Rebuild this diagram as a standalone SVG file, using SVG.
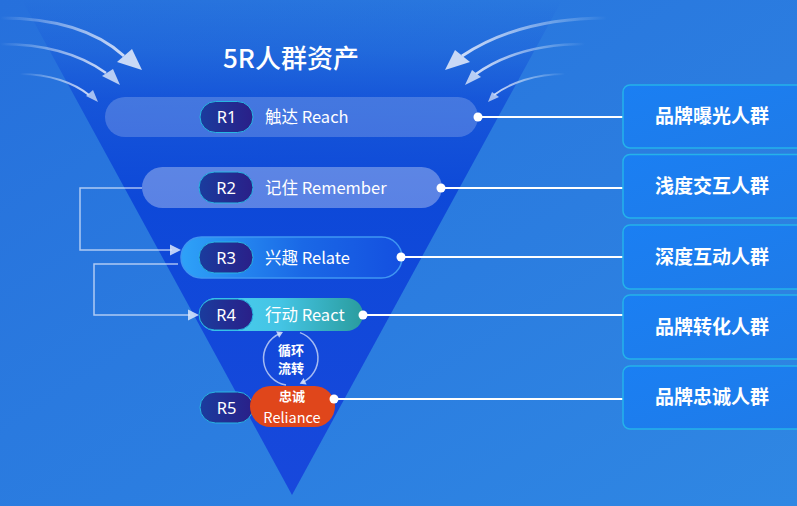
<svg xmlns="http://www.w3.org/2000/svg" width="797" height="506" viewBox="0 0 797 506">
<defs>
<linearGradient id="bg" x1="0" y1="0" x2="1" y2="1">
<stop offset="0" stop-color="#2670dc"/>
<stop offset="1" stop-color="#2f87e3"/>
</linearGradient>
<linearGradient id="funnel" x1="0" y1="0" x2="0" y2="495" gradientUnits="userSpaceOnUse">
<stop offset="0" stop-color="#0c44d6" stop-opacity="0"/>
<stop offset="0.1" stop-color="#0c44d6" stop-opacity="0.25"/>
<stop offset="0.2" stop-color="#0c44d6" stop-opacity="0.65"/>
<stop offset="0.4" stop-color="#0c46d8" stop-opacity="0.95"/>
<stop offset="1" stop-color="#1848dc"/>
</linearGradient>
<linearGradient id="fadeL" x1="0" y1="0" x2="1" y2="0">
<stop offset="0" stop-color="#ffffff" stop-opacity="0"/>
<stop offset="1" stop-color="#dfe8fb" stop-opacity="0.9"/>
</linearGradient>
<linearGradient id="fadeR" x1="1" y1="0" x2="0" y2="0">
<stop offset="0" stop-color="#ffffff" stop-opacity="0"/>
<stop offset="1" stop-color="#dfe8fb" stop-opacity="0.9"/>
</linearGradient>
<linearGradient id="badge" x1="0" y1="0" x2="1" y2="0">
<stop offset="0" stop-color="#1a3c9e"/>
<stop offset="1" stop-color="#2a1f88"/>
</linearGradient>
<linearGradient id="r3g" x1="0" y1="0" x2="1" y2="0">
<stop offset="0" stop-color="#2ea2f8"/>
<stop offset="0.55" stop-color="#1a68e6"/>
<stop offset="1" stop-color="#1450e0"/>
</linearGradient>
<linearGradient id="r4g" x1="0" y1="0" x2="1" y2="0">
<stop offset="0" stop-color="#4ad0f2"/>
<stop offset="0.5" stop-color="#44c4e4"/>
<stop offset="1" stop-color="#2a9c9e"/>
</linearGradient>
<linearGradient id="boxg" x1="0" y1="0" x2="1" y2="1">
<stop offset="0" stop-color="#1a7ff3"/>
<stop offset="1" stop-color="#1f7be8"/>
</linearGradient>
<style>
.cn{font-family:"Noto Sans CJK SC","Noto Sans",sans-serif;fill:#ffffff}
.lbl{font-size:16.5px}
.badge{fill:url(#badge);stroke:#27b6e2;stroke-width:1}
.btxt{font-family:"Noto Sans","Liberation Sans",sans-serif;font-size:16.5px;fill:#ffffff;text-anchor:middle}
.box{fill:url(#boxg);stroke:#25b2ea;stroke-width:1.5}
.boxtxt{font-size:19px;font-weight:bold;text-anchor:middle}
.link{stroke:#ffffff;stroke-width:2;fill:none}
.dot{fill:#ffffff}
.loop{stroke:#dbe6fb;stroke-opacity:0.75;stroke-width:1.5;fill:none}
.loophead{fill:#dbe6fb;fill-opacity:0.85}
.cyc{stroke:#e4ecfc;stroke-opacity:0.7;stroke-width:1.5;fill:none}
.head{fill:#c9d9f6}
</style>
</defs>
<rect x="0" y="0" width="797" height="506" fill="url(#bg)"/>
<polygon points="22,0 562,0 292,495" fill="url(#funnel)"/>

<g id="incoming-arrows">
<path d="M0 18 C60 18 100 34 124 56" stroke="url(#fadeL)" stroke-width="3" fill="none"/>
<polygon class="head" points="142,70 117,62 132,49"/>
<path d="M0 44 C50 44 84 57 106 73" stroke="url(#fadeL)" stroke-width="2.5" fill="none"/>
<polygon class="head" points="120,85 102,76 113,69" opacity="0.9"/>
<path d="M20 74 C50 74 74 83 89 95" stroke="url(#fadeL)" stroke-width="2" fill="none"/>
<polygon class="head" points="98,102 86,96 93,90" opacity="0.8"/>
<path d="M607 18 C540 18 495 34 462 56" stroke="url(#fadeR)" stroke-width="3" fill="none"/>
<polygon class="head" points="445,70 455,50 470,62"/>
<path d="M585 44 C535 44 500 57 476 74" stroke="url(#fadeR)" stroke-width="2.5" fill="none"/>
<polygon class="head" points="465,85 472,70 481,77" opacity="0.9"/>
<path d="M565 74 C535 74 510 83 494 95" stroke="url(#fadeR)" stroke-width="2" fill="none"/>
<polygon class="head" points="488,102 492,92 499,97" opacity="0.8"/>
</g>

<text class="cn" x="291" y="68" font-size="26" font-weight="500" text-anchor="middle">5R人群资产</text>

<g id="connectors">
<line class="link" x1="478" y1="117" x2="623" y2="117"/>
<line class="link" x1="441" y1="188" x2="623" y2="188"/>
<line class="link" x1="401" y1="257" x2="623" y2="257"/>
<line class="link" x1="363" y1="315" x2="623" y2="315"/>
<line class="link" x1="334" y1="399" x2="623" y2="399"/>
<path class="loop" d="M142 188 H80 V250 H172"/>
<polygon class="loophead" points="181,250 170,244.5 170,255.5"/>
<path class="loop" d="M178 264 H94 V315 H190"/>
<polygon class="loophead" points="199,315 188,309.5 188,320.5"/>
<path class="cyc" d="M286 385 A27 27 0 0 1 280 333.5"/>
<polygon class="loophead" points="283,332 279.1,337.7 276.1,331.3"/>
<path class="cyc" d="M300 332.6 A27 27 0 0 1 302.4 382.5"/>
<polygon class="loophead" points="299.7,383.8 306.6,384.5 303.6,378.1"/>
</g>

<g id="R1">
<rect x="105" y="97" width="373" height="40" rx="20" fill="#ffffff" fill-opacity="0.2"/>
<rect class="badge" x="200" y="101.5" width="53" height="31" rx="15.5"/>
<text class="btxt" x="226.5" y="123">R1</text>
<text class="cn lbl" x="265" y="123">触达 Reach</text>
<circle class="dot" cx="478" cy="117" r="4.5"/>
</g>

<g id="R2">
<rect x="142" y="167" width="300" height="41" rx="20.5" fill="#ffffff" fill-opacity="0.32"/>
<rect class="badge" x="199" y="172" width="54" height="31" rx="15.5"/>
<text class="btxt" x="226" y="193.5">R2</text>
<text class="cn lbl" x="265" y="193.5">记住 Remember</text>
<circle class="dot" cx="441" cy="188" r="4.5"/>
</g>

<g id="R3">
<rect x="181" y="237" width="221" height="41" rx="20.5" fill="url(#r3g)" stroke="#3f96f2" stroke-width="1.5"/>
<rect class="badge" x="199" y="242" width="54" height="31" rx="15.5"/>
<text class="btxt" x="226" y="263.5">R3</text>
<text class="cn lbl" x="265" y="263.5">兴趣 Relate</text>
<circle class="dot" cx="401" cy="257" r="4.5"/>
</g>

<g id="R4">
<rect x="199" y="298" width="164" height="33" rx="16.5" fill="url(#r4g)"/>
<rect class="badge" x="199" y="299" width="54" height="31" rx="15.5"/>
<text class="btxt" x="226" y="320.5">R4</text>
<text class="cn lbl" x="265" y="321">行动 React</text>
<circle class="dot" cx="363" cy="315" r="4.5"/>
</g>

<g id="cycle-label">
<text class="cn" x="291" y="355" font-size="13" font-weight="bold" text-anchor="middle">循环</text>
<text class="cn" x="291" y="373" font-size="13" font-weight="bold" text-anchor="middle">流转</text>
</g>

<g id="R5">
<rect class="badge" x="200" y="392" width="53" height="31" rx="15.5"/>
<text class="btxt" x="226.5" y="413.5">R5</text>
<rect x="250" y="386" width="85" height="41" rx="20.5" fill="#e0461b"/>
<text class="cn" x="292" y="401" font-size="13" font-weight="bold" text-anchor="middle">忠诚</text>
<text class="cn" x="292" y="423" font-size="14.5" text-anchor="middle">Reliance</text>
<circle class="dot" cx="334" cy="399" r="4.5"/>
</g>

<g id="box1">
<rect class="box" x="623" y="85" width="190" height="63" rx="7"/>
<text class="cn boxtxt" x="712" y="123">品牌曝光人群</text>
</g>
<g id="box2">
<rect class="box" x="623" y="154.5" width="190" height="63.5" rx="7"/>
<text class="cn boxtxt" x="712" y="193">浅度交互人群</text>
</g>
<g id="box3">
<rect class="box" x="623" y="225" width="190" height="64" rx="7"/>
<text class="cn boxtxt" x="712" y="264">深度互动人群</text>
</g>
<g id="box4">
<rect class="box" x="623" y="295" width="190" height="64" rx="7"/>
<text class="cn boxtxt" x="712" y="334">品牌转化人群</text>
</g>
<g id="box5">
<rect class="box" x="623" y="366" width="190" height="63" rx="7"/>
<text class="cn boxtxt" x="712" y="404">品牌忠诚人群</text>
</g>
</svg>
